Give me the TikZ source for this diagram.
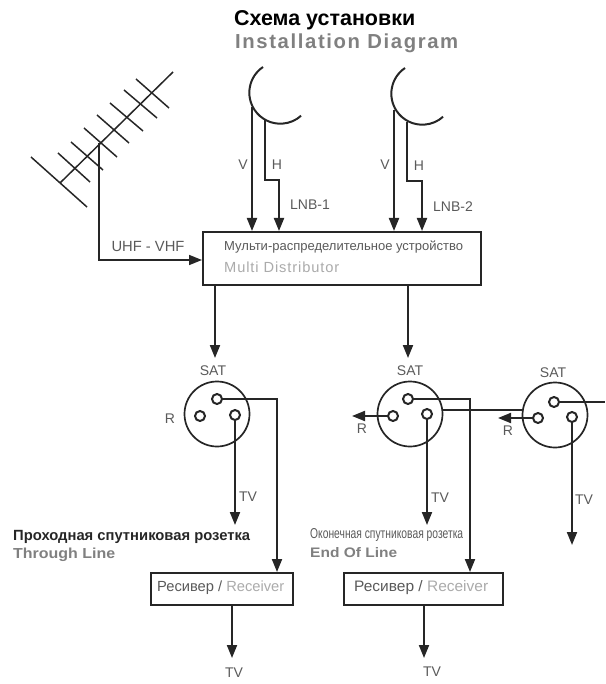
\documentclass[tikz,border=0pt]{standalone}
\usepackage{fontspec}
\setmainfont{Liberation Sans}
\usetikzlibrary{arrows.meta}
\definecolor{ink}{HTML}{262626}
\definecolor{lab}{HTML}{5A5A5A}
\definecolor{soft}{HTML}{ABABAB}
\tikzset{
  x=1pt,y=-1pt,
  wire/.style={draw=ink,line width=2pt},
  arr/.style={wire,-{Triangle[length=13pt,width=10pt]}},
  thin wire/.style={draw=ink,line width=1.5pt},
  lab/.style={text=lab,font=\fontsize{14}{14}\selectfont,inner sep=0pt},
  boxnode/.style={draw=ink,line width=2pt,fill=white,inner sep=0pt,anchor=north west},
  hole/.style={circle,draw=ink,line width=2pt,minimum size=10pt,inner sep=0pt,fill=white},
  socket/.style={circle,draw=ink,line width=1.7pt,minimum size=65pt,inner sep=0pt},
  txt/.style={anchor=west,inner sep=0pt},
}
\newcommand{\fitw}[2]{\resizebox{#1pt}{!}{#2}}
\begin{document}
\begin{tikzpicture}
\useasboundingbox (0,0) rectangle (605,684);
% titles
\node[txt] (t1) at (234,20) {\fitw{181}{\fontsize{17}{17}\selectfont\bfseries Схема установки}};
\node[txt,text=gray] (t2) at (235,43) {\fitw{223}{\fontsize{17}{17}\selectfont\bfseries\addfontfeatures{LetterSpace=8} Installation Diagram}};
% antenna
\coordinate (bA) at (60,183); \coordinate (bB) at (173,72);
\draw[thin wire] (bA) -- (bB);
\foreach \a/\b/\c/\d in {31/157/87/207,58/153/90/182,71/142/103/170,84/128/117/157,97/115/129/143,110/103/143/131,124/90/157/118,136/79/169/108}
  \draw[thin wire] (\a,\b) -- (\c,\d);
% boxes
\node[boxnode,minimum width=278pt,minimum height=53pt] (md) at (202,231) {};
\node[boxnode,minimum width=142pt,minimum height=32pt] (r1) at (150,572) {};
\node[boxnode,minimum width=159pt,minimum height=32pt] (r2) at (343,572) {};
\node[txt,text=lab] (mdA) at (224,247) {\fitw{239}{\fontsize{10}{10}\selectfont Мульти-распределительное устройство}};
\node[txt,text=soft] (mdB) at (224,267) {\fitw{115}{\fontsize{10.5}{10.5}\selectfont\addfontfeatures{LetterSpace=6} Multi Distributor}};
\node[txt] (r1t) at (157,588) {\fitw{127}{\fontsize{12}{12}\selectfont\textcolor{lab}{Ресивер /} \textcolor{soft}{Receiver}}};
\node[txt] (r2t) at (354,588) {\resizebox{134pt}{11pt}{\textcolor{lab}{Ресивер /} \textcolor{soft}{Receiver}}};
% dishes
\coordinate (d1s) at (263,67); \coordinate (d2s) at (405,68);
\draw[wire] (d1s) arc[start angle=124,end angle=312,x radius=31pt,y radius=31pt] coordinate (d1e);
\draw[wire] (d2s) arc[start angle=124,end angle=312,x radius=31pt,y radius=31pt] coordinate (d2e);
\coordinate (v1) at (252,107); \coordinate (h1) at (265,120);
\coordinate (v2) at (394,110); \coordinate (h2) at (407,122);
\coordinate (v1t) at (252,231); \coordinate (h1t) at (279,231);
\coordinate (v2t) at (394,231); \coordinate (h2t) at (422,231);
\draw[arr] (v1) -- (v1t);
\draw[arr] (h1) |- (279,180) -- (h1t);
\draw[arr] (v2) -- (v2t);
\draw[arr] (h2) |- (422,181) -- (h2t);
\node[lab] (lv1) at (243,165) {V};
\node[lab] (lh1) at (277,165) {H};
\node[lab] (ll1) at (310,205) {LNB-1};
\node[lab] (lv2) at (385,165) {V};
\node[lab] (lh2) at (419,166) {H};
\node[lab] (ll2) at (453,207) {LNB-2};
% antenna feed
\coordinate (feed) at (99,143);
\coordinate (mdin) at (202,260);
\draw[arr,line width=1.6pt] (feed) |- (mdin);
\node[lab] (uv) at (148,246) {\fitw{73}{UHF - VHF}};
% sockets
\node[socket] (s1) at (217,414) {};
\node[socket] (s2) at (410,414) {};
\node[socket] (s3) at (555,415) {};
\node[lab] (sat1) at (213,371) {SAT};
\node[lab] (sat2) at (410,371) {SAT};
\node[lab] (sat3) at (553,373) {SAT};
\coordinate (md1) at (215,284); \coordinate (md2) at (408,284);
\coordinate (m1e) at (215,358); \coordinate (m2e) at (408,358);
\draw[arr] (md1) -- (m1e);
\draw[arr] (md2) -- (m2e);
\node[hole] (a1) at (217,399) {};
\node[hole] (b1) at (200,416) {};
\node[hole] (c1) at (235,415) {};
\node[hole] (a2) at (408,399) {};
\node[hole] (b2) at (393,416) {};
\node[hole] (c2) at (427,414) {};
\node[hole] (a3) at (554,402) {};
\node[hole] (b3) at (538,418) {};
\node[hole] (c3) at (572,417) {};
% socket 1
\coordinate (r1in) at (277,572);
\draw[arr] (a1.east) -| (r1in);
\coordinate (tv1e) at (234,525);
\draw[arr] (c1.south) -- (c1.south |- tv1e);
\node[lab] (r1l) at (170,419) {R};
\node[lab] (tv1) at (248,497) {TV};
% socket 2
\coordinate (r2in) at (470,572);
\draw[arr] (a2.east) -| (r2in);
\coordinate (tv2e) at (427,525);
\draw[arr] (c2.south) -- (tv2e);
\coordinate (re2) at (352,416);
\draw[arr] (b2.west) -- (re2);
\node[lab] (r2l) at (362,429) {R};
\node[lab] (tv2) at (440,498) {TV};
% link socket 2 to socket 3
\draw[thin wire] (s2.east |- 0,410) -- (s3.west |- 0,410);
% socket 3
\coordinate (re3) at (498,418);
\draw[arr] (b3.west) -- (re3);
\coordinate (out3) at (605,402);
\draw[wire] (a3.east) -- (out3);
\coordinate (tv3e) at (572,545);
\draw[arr] (c3.south) -- (tv3e);
\node[lab] (r3l) at (508,431) {R};
\node[lab] (tv3) at (584,500) {TV};
% notes
\node[txt,text=ink] (n1a) at (13,537) {\fitw{237}{\fontsize{12}{12}\selectfont\bfseries Проходная спутниковая розетка}};
\node[txt,text=gray] (n1b) at (13,555) {\resizebox{102pt}{10.5pt}{\bfseries Through Line}};
\node[txt,text=lab] (n2a) at (310,535) {\resizebox{153pt}{10pt}{Оконечная спутниковая розетка}};
\node[txt,text=gray] (n2b) at (310,553) {\resizebox{87pt}{10pt}{\bfseries End Of Line}};
% receiver outputs
\coordinate (o1) at (232,604); \coordinate (o1e) at (232,658);
\coordinate (o2) at (424,604); \coordinate (o2e) at (424,658);
\draw[arr] (o1) -- (o1e);
\draw[arr] (o2) -- (o2e);
\node[lab] (tv4) at (234,673) {TV};
\node[lab] (tv5) at (432,672) {TV};
\end{tikzpicture}
\end{document}
